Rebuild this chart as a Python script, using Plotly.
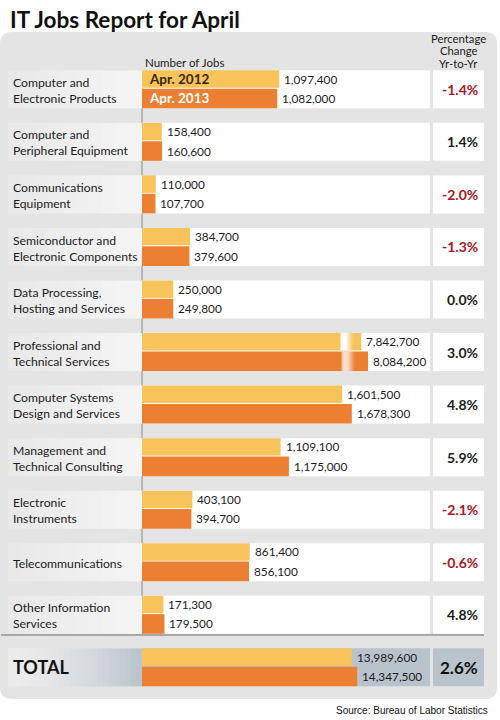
import plotly.graph_objects as go

# ---------------- data ----------------
categories = [
    "Computer and<br>Electronic Products",
    "Computer and<br>Peripheral Equipment",
    "Communications<br>Equipment",
    "Semiconductor and<br>Electronic Components",
    "Data Processing,<br>Hosting and Services",
    "Professional and<br>Technical Services",
    "Computer Systems<br>Design and Services",
    "Management and<br>Technical Consulting",
    "Electronic<br>Instruments",
    "Telecommunications",
    "Other Information<br>Services",
]
jobs_2012 = [1097400, 158400, 110000, 384700, 250000, 7842700, 1601500, 1109100, 403100, 861400, 171300]
jobs_2013 = [1082000, 160600, 107700, 379600, 249800, 8084200, 1678300, 1175000, 394700, 856100, 179500]
pct_change = [-1.4, 1.4, -2.0, -1.3, 0.0, 3.0, 4.8, 5.9, -2.1, -0.6, 4.8]
series_names = ["Apr. 2012", "Apr. 2013"]
total_label = "TOTAL"
total_2012 = 13989600
total_2013 = 14347500
total_pct = 2.6
broken_category = "Professional and<br>Technical Services"

# ---------------- styling ----------------
W, H = 500, 720
FONT = "Lato"
YELLOW = "#f8c35a"
ORANGE = "#ec7f31"
RED = "#b0141c"
DARK = "#1c1c1c"
PANEL = "#e4e4e4"
TOTAL_BG = "#b8c3cb"

ROW0, PITCH = 89.3, 52.55
R_TOP = -ROW0 / PITCH
R_BOT = R_TOP + H / PITCH
HALF = 19.0 / PITCH
BAR_X0 = 142  # px where bars start


def px(x):
    return x / W


def py(y):
    return 1 - y / H


def xrange_for(px_per_million):
    a = -BAR_X0 / px_per_million * 1e6
    b = a + W / px_per_million * 1e6
    return [a, b]


n = len(categories)
idx = list(range(n))
bi = categories.index(broken_category)
total_i = n
normal = [i for i in idx if i != bi]

fig = go.Figure()

Y_OFF, Y_W = -HALF, HALF - 0.03
O_OFF, O_W = -0.012, HALF + 0.012


def add_bars(rows, v12, v13, xa):
    fig.add_trace(go.Bar(y=rows, x=v12, orientation="h", xaxis=xa, yaxis="y",
                         offset=Y_OFF, width=Y_W, marker=dict(color=YELLOW, line=dict(width=0)),
                         name=series_names[0], showlegend=False, hoverinfo="skip"))
    fig.add_trace(go.Bar(y=rows, x=v13, orientation="h", xaxis=xa, yaxis="y",
                         offset=O_OFF, width=O_W, marker=dict(color=ORANGE, line=dict(width=0)),
                         name=series_names[1], showlegend=False, hoverinfo="skip"))


add_bars(normal, [jobs_2012[i] for i in normal], [jobs_2013[i] for i in normal], "x")
add_bars([bi], [jobs_2012[bi]], [jobs_2013[bi]], "x2")
add_bars([total_i], [total_2012], [total_2013], "x3")

shapes = []
ann = []

# panel
r = 12
x0, x1, y0, y1 = 0, 497, 32, 699
path = (f"M {px(x0)},{py(y0 + r)} Q {px(x0)},{py(y0)} {px(x0 + r)},{py(y0)} "
        f"L {px(x1 - r)},{py(y0)} Q {px(x1)},{py(y0)} {px(x1)},{py(y0 + r)} "
        f"L {px(x1)},{py(y1 - r)} Q {px(x1)},{py(y1)} {px(x1 - r)},{py(y1)} "
        f"L {px(x0 + r)},{py(y1)} Q {px(x0)},{py(y1)} {px(x0)},{py(y1 - r)} Z")
shapes.append(dict(type="path", path=path, xref="paper", yref="paper",
                   fillcolor=PANEL, line=dict(width=0), layer="below"))

# vertical axis line
shapes.append(dict(type="line", xref="paper", yref="paper", x0=px(BAR_X0), x1=px(BAR_X0),
                   y0=py(70), y1=py(635), line=dict(color="#8a8a8a", width=1), layer="below"))
# separator above total
shapes.append(dict(type="line", xref="paper", yref="paper", x0=px(1), x1=px(484),
                   y0=py(635), y1=py(635), line=dict(color="#a8a8a8", width=2), layer="below"))


def lerp(c1, c2, t):
    a = [int(c1[k:k + 2], 16) for k in (1, 3, 5)]
    b = [int(c2[k:k + 2], 16) for k in (1, 3, 5)]
    return "#" + "".join(f"{round(a[j] + (b[j] - a[j]) * t):02x}" for j in range(3))


def gradient_cell(i, xa, xb, c1, c2, steps, power=1.0):
    w = (xb - xa) / steps
    for s in range(steps):
        t = ((s + 0.5) / steps) ** power
        shapes.append(dict(type="rect", xref="paper", yref="y",
                           x0=px(xa + s * w), x1=px(xa + (s + 1) * w + 0.6),
                           y0=i - HALF, y1=i + HALF, fillcolor=lerp(c1, c2, t),
                           line=dict(width=0), layer="below"))


for i in idx:
    gradient_cell(i, 8, BAR_X0, "#e8e8e8", "#f5f5f5", 10)
    shapes.append(dict(type="rect", xref="paper", yref="y", x0=px(BAR_X0), x1=px(430),
                       y0=i - HALF, y1=i + HALF, fillcolor="white", line=dict(width=0), layer="below"))
    shapes.append(dict(type="rect", xref="paper", yref="y", x0=px(433), x1=px(484),
                       y0=i - HALF, y1=i + HALF, fillcolor="white", line=dict(width=0), layer="below"))

# total row cells
gradient_cell(total_i, 8, BAR_X0, "#ececec", TOTAL_BG, 24, 1.6)
shapes.append(dict(type="rect", xref="paper", yref="y", x0=px(BAR_X0), x1=px(430),
                   y0=total_i - HALF, y1=total_i + HALF, fillcolor=TOTAL_BG, line=dict(width=0), layer="below"))
shapes.append(dict(type="rect", xref="paper", yref="y", x0=px(433), x1=px(484),
                   y0=total_i - HALF, y1=total_i + HALF, fillcolor=TOTAL_BG, line=dict(width=0), layer="below"))

# break marks on the broken bar
for (xs, ys0, ys1) in [(340, bi + Y_OFF, bi + Y_OFF + Y_W), (341.5, bi + O_OFF, bi + O_OFF + O_W)]:
    prof = [0.5, 1, 1, 1, 1, 1, 0.9, 0.75, 0.6, 0.45, 0.32, 0.2, 0.1, 0.04]
    for k, op in enumerate(prof):
        shapes.append(dict(type="rect", xref="paper", yref="y", x0=px(xs + k), x1=px(xs + k + 1),
                           y0=ys0, y1=ys1, fillcolor="white", opacity=op, line=dict(width=0), layer="above"))


def fmt(v):
    return f"{v:,.0f}"


axis_of = {i: "x" for i in normal}
axis_of[bi] = "x2"
NUM_SIZE = 11.8

# value labels
for i in idx:
    xa = axis_of[i]
    ann.append(dict(x=jobs_2012[i], y=i + Y_OFF + Y_W / 2, xref=xa, yref="y", text=fmt(jobs_2012[i]),
                    xanchor="left", yanchor="middle", xshift=3, showarrow=False,
                    font=dict(family=FONT, size=NUM_SIZE, color=DARK)))
    ann.append(dict(x=jobs_2013[i], y=i + O_OFF + O_W / 2, xref=xa, yref="y", text=fmt(jobs_2013[i]),
                    xanchor="left", yanchor="middle", xshift=3, showarrow=False,
                    font=dict(family=FONT, size=NUM_SIZE, color=DARK)))
    # category label
    ann.append(dict(x=px(11), y=i + 0.02, xref="paper", yref="y", text=categories[i], align="left",
                    xanchor="left", yanchor="middle", showarrow=False,
                    font=dict(family=FONT, size=12.2, color=DARK)))
    v = pct_change[i]
    ann.append(dict(x=px(480), y=i, xref="paper", yref="y", text=f"{v:.1f}%",
                    xanchor="right", yanchor="middle", showarrow=False,
                    font=dict(family=FONT, size=14, color=RED if v < 0 else DARK, weight="bold")))

# total labels
ann.append(dict(x=total_2012, y=total_i + Y_OFF + Y_W / 2, xref="x3", yref="y", text=fmt(total_2012),
                xanchor="left", yanchor="middle", xshift=3, showarrow=False,
                font=dict(family=FONT, size=NUM_SIZE, color=DARK)))
ann.append(dict(x=total_2013, y=total_i + O_OFF + O_W / 2, xref="x3", yref="y", text=fmt(total_2013),
                xanchor="left", yanchor="middle", xshift=3, showarrow=False,
                font=dict(family=FONT, size=NUM_SIZE, color=DARK)))
ann.append(dict(x=px(11), y=total_i, xref="paper", yref="y", text=total_label,
                xanchor="left", yanchor="middle", showarrow=False,
                font=dict(family=FONT, size=18, color="#111111", weight="bold")))
ann.append(dict(x=px(458.5), y=total_i, xref="paper", yref="y", text=f"{total_pct:.1f}%",
                xanchor="center", yanchor="middle", showarrow=False,
                font=dict(family=FONT, size=17, color="#111111", weight="bold")))

# series names inside the first bars
ann.append(dict(x=px(147), y=0 + Y_OFF + Y_W / 2, xref="paper", yref="y", text=series_names[0],
                xanchor="left", yanchor="middle", showarrow=False,
                font=dict(family=FONT, size=13.5, color="#3a2608", weight="bold")))
ann.append(dict(x=px(147), y=0 + O_OFF + O_W / 2, xref="paper", yref="y", text=series_names[1],
                xanchor="left", yanchor="middle", showarrow=False,
                font=dict(family=FONT, size=13.5, color="white", weight="bold")))

# headers
ann.append(dict(x=px(143), y=py(62), xref="paper", yref="paper", text="Number of Jobs",
                xanchor="left", yanchor="middle", showarrow=False,
                font=dict(family=FONT, size=11.5, color=DARK)))
for t, yy in [("Percentage", 38), ("Change", 50.5), ("Yr-to-Yr", 63)]:
    ann.append(dict(x=px(458.5), y=py(yy), xref="paper", yref="paper", text=t,
                    xanchor="center", yanchor="middle", showarrow=False,
                    font=dict(family=FONT, size=11.3, color=DARK)))

# title and source
ann.append(dict(x=px(8), y=py(19), xref="paper", yref="paper", text="IT Jobs Report for April",
                xanchor="left", yanchor="middle", showarrow=False,
                font=dict(family=FONT, size=22.5, color="#111111", weight="bold")))
ann.append(dict(x=px(490), y=py(710), xref="paper", yref="paper", text="Source: Bureau of Labor Statistics",
                xanchor="right", yanchor="middle", showarrow=False,
                font=dict(family="Liberation Sans", size=10, color="#111111")))

hidden = dict(visible=False, fixedrange=True)
fig.update_layout(
    width=W, height=H, margin=dict(l=0, r=0, t=0, b=0),
    paper_bgcolor="white", plot_bgcolor="rgba(0,0,0,0)",
    barmode="overlay", showlegend=False,
    xaxis=dict(range=xrange_for(125.0), domain=[0, 1], **hidden),
    xaxis2=dict(range=xrange_for(27.96), overlaying="x", **hidden),
    xaxis3=dict(range=xrange_for(15.0), overlaying="x", **hidden),
    yaxis=dict(range=[R_BOT, R_TOP], domain=[0, 1], **hidden),
    shapes=shapes, annotations=ann,
)

fig.write_html("out.html", config={"displayModeBar": False},
               post_script="document.body.style.margin='0px';document.body.style.overflow='hidden';")
